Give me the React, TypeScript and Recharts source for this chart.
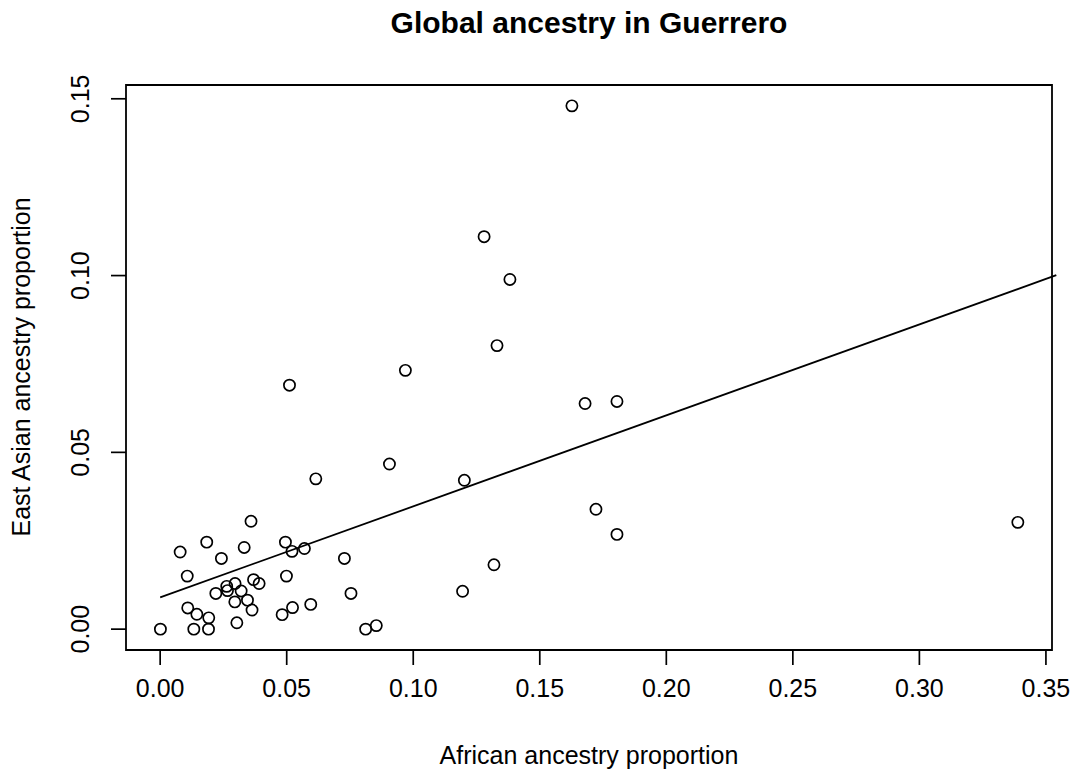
import { ReferenceArea, ReferenceLine, Scatter, ScatterChart, XAxis, YAxis } from "recharts";

const africanProp = [
  0.0359, 0.0184, 0.0079, 0.0332, 0.0242, 0.0495, 0.0521, 0.057, 0.0728, 0.0107,
  0.0499, 0.022, 0.0263, 0.0266, 0.0296, 0.032, 0.0369, 0.0391, 0.0295, 0.0345,
  0.0363, 0.0754, 0.0109, 0.0145, 0.0192, 0.0303, 0.0482, 0.0523, 0.0595, 0.0001,
  0.0133, 0.0191, 0.0812, 0.0854, 0.0511, 0.0969, 0.0615, 0.0906, 0.1202, 0.1319,
  0.1195, 0.1627, 0.128, 0.1382, 0.1331, 0.1679, 0.1805, 0.1722, 0.1805, 0.3389,
];

const eastAsianProp = [
  0.0305, 0.0246, 0.0218, 0.0231, 0.02, 0.0246, 0.022, 0.0228, 0.02, 0.015,
  0.015, 0.0101, 0.0121, 0.0109, 0.0129, 0.0108, 0.014, 0.0129, 0.0077, 0.0082,
  0.0054, 0.0101, 0.006, 0.0042, 0.0032, 0.0018, 0.0041, 0.0061, 0.007, 0.0,
  0.0, 0.0, 0.0, 0.001, 0.069, 0.0732, 0.0425, 0.0467, 0.0421, 0.0182,
  0.0107, 0.148, 0.111, 0.0989, 0.0802, 0.0638, 0.0644, 0.0339, 0.0268, 0.0302,
];

// fitted line endpoints (as drawn)
const fitStart = { x: 0, y: 0.009 };
const fitEnd = { x: 0.3541, y: 0.1001 };

const xTicks = [0, 0.05, 0.1, 0.15, 0.2, 0.25, 0.3, 0.35];
const yTicks = [0, 0.05, 0.1, 0.15];
const xDomain: [number, number] = [-0.0135, 0.3524];
const yDomain: [number, number] = [-0.0059, 0.1539];

const points = africanProp.map((x, i) => ({ x, y: eastAsianProp[i] }));

const font = "'Liberation Sans', Arial, Helvetica, sans-serif";

const XTick = ({ x, payload }: any) => (
  <text x={x} y={697} textAnchor="middle" fontSize={25} fontFamily={font} fill="#000">
    {payload.value.toFixed(2)}
  </text>
);

const YTick = ({ y, payload }: any) => (
  <text
    x={89}
    y={y}
    textAnchor="middle"
    fontSize={25}
    fontFamily={font}
    fill="#000"
    transform={`rotate(-90, 89, ${y})`}
  >
    {payload.value.toFixed(2)}
  </text>
);

const Ring = ({ cx, cy }: any) => (
  <circle cx={cx} cy={cy} r={5.6} fill="none" stroke="#000" strokeWidth={1.7} />
);

export default function App() {
  return (
    <div style={{ position: "absolute", left: 0, top: 0, width: 1076, height: 770, background: "#fff" }}>
      <ScatterChart width={1076} height={770} margin={{ top: 85, right: 24, bottom: 0, left: 0 }}>
        <XAxis
          type="number"
          dataKey="x"
          domain={xDomain}
          ticks={xTicks}
          allowDataOverflow
          axisLine={false}
          tickSize={15}
          tickLine={{ stroke: "#000", strokeWidth: 1.7 }}
          tick={<XTick />}
          height={120}
          label={{
            value: "African ancestry proportion",
            position: "insideBottom",
            offset: 6,
            fontSize: 25,
            fontFamily: font,
            fill: "#000",
          }}
        />
        <YAxis
          type="number"
          dataKey="y"
          domain={yDomain}
          ticks={yTicks}
          allowDataOverflow
          axisLine={false}
          tickSize={15}
          tickLine={{ stroke: "#000", strokeWidth: 1.7 }}
          tick={<YTick />}
          width={126}
          label={{
            content: () => (
              <text
                x={30}
                y={367}
                textAnchor="middle"
                fontSize={25}
                fontFamily={font}
                fill="#000"
                transform="rotate(-90, 30, 367)"
              >
                East Asian ancestry proportion
              </text>
            ),
          }}
        />
        <ReferenceArea
          x1={xDomain[0]}
          x2={xDomain[1]}
          y1={yDomain[0]}
          y2={yDomain[1]}
          fill="none"
          fillOpacity={0}
          stroke="#000"
          strokeWidth={1.8}
          ifOverflow="visible"
        />
        <ReferenceLine
          segment={[fitStart, fitEnd]}
          stroke="#000"
          strokeWidth={1.8}
          ifOverflow="visible"
        />
        <Scatter data={points} shape={<Ring />} isAnimationActive={false} />
      </ScatterChart>
      <svg
        width={1076}
        height={60}
        style={{ position: "absolute", left: 0, top: 0, pointerEvents: "none" }}
      >
        <text x={589} y={33} textAnchor="middle" fontSize={30} fontWeight="bold" fontFamily={font} fill="#000">
          Global ancestry in Guerrero
        </text>
      </svg>
    </div>
  );
}
